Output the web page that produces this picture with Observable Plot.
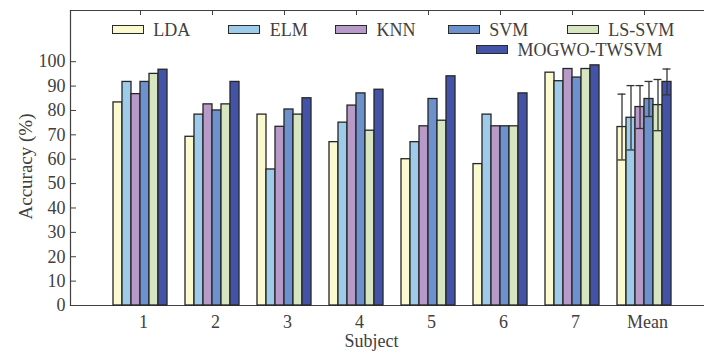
<!DOCTYPE html>
<html><head><meta charset="utf-8">
<script src="https://cdn.jsdelivr.net/npm/d3@7"></script>
<script src="https://cdn.jsdelivr.net/npm/@observablehq/plot@0.6"></script>
<style>
html,body{margin:0;padding:0;background:#fff;overflow:hidden}
#wrap{position:relative;width:704px;height:352px;font-family:"Liberation Serif","Times New Roman",serif;color:#404040}
#wrap svg{position:absolute;left:0;top:0}
.lg{position:absolute;display:flex;align-items:center;font-size:18px;line-height:18px;height:18px;white-space:nowrap}
.sw{box-sizing:border-box;width:32px;height:9.5px;border:1.5px solid #2a2a2a;margin-right:9.5px}
</style></head><body><div id="wrap"></div>
<script>
const subjects = ["1","2","3","4","5","6","7","Mean"];
const methods = ["LDA","ELM","KNN","SVM","LS-SVM","MOGWO-TWSVM"];
const colors = ["#fbf9cf","#9fcbeb","#b89ac8","#6d91cc","#d8e5c1","#4354a8"];
// accuracy per subject (last entry = Mean)
const ldaValues   = [83.3, 69.2, 78.3, 67.0, 60.0, 58.0, 95.5, 73.2];
const elmValues   = [91.7, 78.3, 55.8, 75.0, 67.0, 78.3, 92.0, 77.0];
const knnValues   = [86.7, 82.5, 73.3, 82.0, 73.5, 73.5, 97.0, 81.4];
const svmValues   = [91.7, 80.0, 80.4, 87.0, 84.7, 73.5, 93.5, 84.7];
const lssvmValues = [95.0, 82.5, 78.3, 71.7, 75.8, 73.5, 97.0, 82.2];
const mogwoValues = [96.7, 91.7, 85.0, 88.5, 94.0, 87.0, 98.5, 91.7];
// standard deviation of the Mean bars
const meanStd = [13.5, 13.2, 8.8, 7.2, 10.5, 5.3];
const yTicks = [0,10,20,30,40,50,60,70,80,90,100];

const series = [ldaValues, elmValues, knnValues, svmValues, lssvmValues, mogwoValues];
const rows = [];
subjects.forEach((s, i) => methods.forEach((m, j) => rows.push({subject: s, method: m, value: series[j][i]})));
const errRows = methods.map((m, j) => ({subject: "Mean", method: m, value: series[j][subjects.length - 1], sd: meanStd[j]}));

const ink = "#404040";
const common = {
  width: 704, height: 352,
  marginLeft: 70, marginRight: 0, marginTop: 10, marginBottom: 47,
  style: {fontFamily: "'Liberation Serif', 'Times New Roman', serif", fontSize: "18px", color: ink, background: "transparent"}
};

// frame + y axis (no facets)
const axisPlot = Plot.plot({
  ...common,
  y: {domain: [0, 121], axis: null},
  marks: [
    Plot.frame({anchor: "top", stroke: ink, strokeWidth: 1.2}),
    Plot.frame({anchor: "left", stroke: ink, strokeWidth: 1.2}),
    Plot.frame({anchor: "bottom", stroke: ink, strokeWidth: 1.2}),
    Plot.axisY(yTicks, {tickSize: 0, tickPadding: 5, label: null, fill: ink}),
    Plot.axisY(yTicks, {tickSize: 6, dx: 6, tickFormat: () => "", label: null, stroke: ink}),
    Plot.text(["Subject"], {frameAnchor: "bottom", textAnchor: "middle", lineAnchor: "middle", dx: -16, dy: 36, fill: ink, fontSize: 18}),
    Plot.text(["Accuracy (%)"], {frameAnchor: "left", textAnchor: "middle", lineAnchor: "middle", rotate: -90, dx: -45, dy: 8.5, fill: ink, fontSize: 19})
  ]
});

// grouped bars (faceted by subject)
const barPlot = Plot.plot({
  ...common,
  fx: {domain: subjects, range: [70, 714], paddingInner: 0.198, paddingOuter: 0.553, axis: null},
  x: {domain: methods, padding: 0, axis: null},
  y: {domain: [0, 121], axis: null},
  color: {domain: methods, range: colors},
  marks: [
    Plot.barY(rows, {fx: "subject", x: "method", y: "value", fill: "method", stroke: "#262626", strokeWidth: 1.3}),
    Plot.ruleX(errRows, {fx: "subject", x: "method", y1: d => d.value - d.sd, y2: d => d.value + d.sd, stroke: "#333", strokeWidth: 1.3}),
    Plot.tickY(errRows, {fx: "subject", x: "method", y: d => d.value + d.sd, stroke: "#333", strokeWidth: 1.3, insetLeft: 0.5, insetRight: 0.5}),
    Plot.tickY(errRows, {fx: "subject", x: "method", y: d => d.value - d.sd, stroke: "#333", strokeWidth: 1.3, insetLeft: 0.5, insetRight: 0.5}),
    Plot.axisFx({anchor: "top", tickSize: 4, dy: 4, tickFormat: () => "", label: null, stroke: ink}),
    Plot.axisFx({anchor: "bottom", tickSize: 0, tickPadding: 10, dx: 3, label: null, fill: ink})
  ]
});
const wrap = document.getElementById("wrap");
wrap.appendChild(axisPlot);
wrap.appendChild(barPlot);

// legend (positions are layout, not data)
const legendLayout = [[111.7, 20.7], [228.3, 20.7], [335, 20.7], [447.7, 20.7], [566.7, 20.7], [476, 40.7]];
methods.forEach((m, j) => {
  const item = document.createElement("div");
  item.className = "lg";
  item.style.left = legendLayout[j][0] + "px";
  item.style.top = legendLayout[j][1] + "px";
  const sw = document.createElement("div");
  sw.className = "sw";
  sw.style.background = colors[j];
  const tx = document.createElement("span");
  tx.textContent = m;
  item.appendChild(sw); item.appendChild(tx);
  wrap.appendChild(item);
});
</script></body></html>
